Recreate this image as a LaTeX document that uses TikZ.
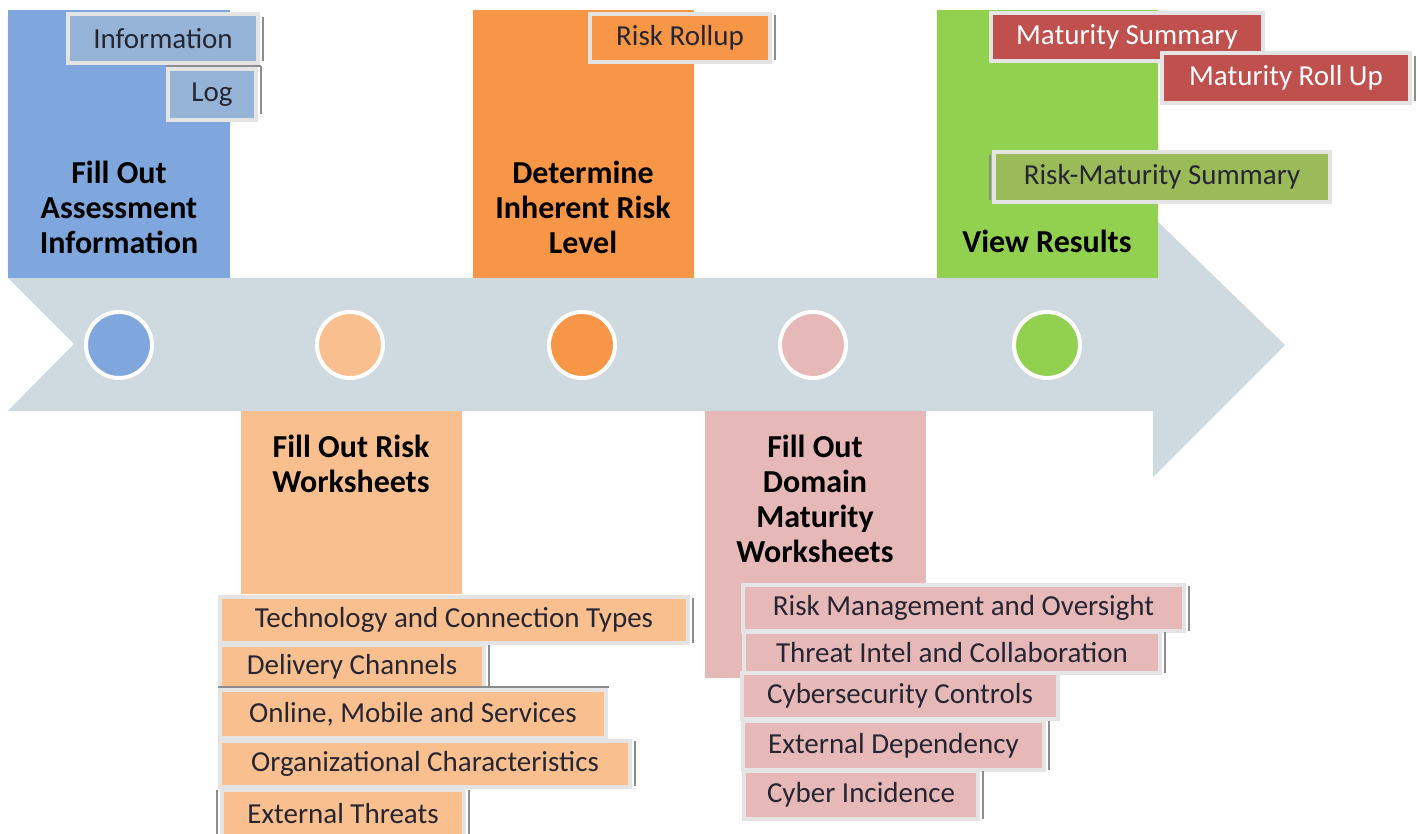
\documentclass[tikz,border=0pt]{standalone}
\usepackage{fontspec}
\setmainfont{Carlito}
\definecolor{band}{HTML}{CFD9E0}
\definecolor{sblue}{HTML}{7FA7DE}
\definecolor{slight}{HTML}{F9BF8F}
\definecolor{sorange}{HTML}{F79646}
\definecolor{spink}{HTML}{E6B8B7}
\definecolor{sgreen}{HTML}{92D050}
\definecolor{tabblue}{HTML}{95B3D7}
\definecolor{tabred}{HTML}{C0504D}
\definecolor{tabolive}{HTML}{9BBB59}
\definecolor{framegray}{HTML}{E4E4E4}
\definecolor{edgegray}{HTML}{8C8C8C}
\definecolor{tabtext}{HTML}{262633}
\tikzset{
  stepbox/.style={inner sep=0pt, anchor=north west},
  steptext/.style={align=center, font=\fontsize{32}{35}\selectfont\bfseries, text=black},
  dot/.style={circle, draw=white, line width=4pt, minimum size=66pt, inner sep=0pt},
  tab/.style={draw=framegray, line width=4pt, inner sep=0pt, anchor=north west,
    font=\fontsize{29}{32}\selectfont, text=tabtext},
  tabedge/.style={draw=edgegray, line width=2pt}
}
\begin{document}
\begin{tikzpicture}[x=1pt,y=-1pt]
\useasboundingbox (0,0) rectangle (1418,834);
\fill[white] (0,0) rectangle (1418,834);

% timeline arrow
\fill[band] (8,278) -- (1153,278) -- (1153,217) -- (1285,345) -- (1153,477)
  -- (1153,411) -- (8,411) -- (74,344) -- cycle;

% step boxes
\node[stepbox, fill=sblue,   minimum width=222pt, minimum height=268pt] (b1) at (8,10) {};
\node[stepbox, fill=slight,  minimum width=221pt, minimum height=183pt] (b2) at (241,411) {};
\node[stepbox, fill=sorange, minimum width=221pt, minimum height=268pt] (b3) at (473,10) {};
\node[stepbox, fill=spink,   minimum width=221pt, minimum height=267pt] (b4) at (705,411) {};
\node[stepbox, fill=sgreen,  minimum width=221pt, minimum height=268pt] (b5) at (937,10) {};

% step titles
\node[steptext] (s1) at (119,207) {Fill Out\\Assessment\\Information};
\node[steptext] (s2) at (351,464) {Fill Out Risk\\Worksheets};
\node[steptext] (s3) at (583,207) {Determine\\Inherent Risk\\Level};
\node[steptext] (s4) at (815,499) {Fill Out\\Domain\\Maturity\\Worksheets};
\node[steptext] (s5) at (1047,241) {View Results};

% milestone dots
\node[dot, fill=sblue]   (d1) at (119,345) {};
\node[dot, fill=slight]  (d2) at (350,345) {};
\node[dot, fill=sorange] (d3) at (582,345) {};
\node[dot, fill=spink]   (d4) at (813,345) {};
\node[dot, fill=sgreen]  (d5) at (1047,345) {};

% worksheet tabs: step 1
\node[tab, fill=tabblue, minimum width=190pt, minimum height=49pt] (info) at (66,12) {Information};
\draw[tabedge] ([xshift=3pt,yshift=-5pt]info.north east) -- ([xshift=3pt,yshift=4pt]info.south east);
\node[tab, fill=tabblue, minimum width=88pt, minimum height=51pt] (log) at (166,67) {Log};
\draw[tabedge] ([xshift=3pt,yshift=1pt]log.north east) -- ([xshift=3pt,yshift=8pt]log.south east);
\draw[tabedge] ([yshift=1pt]log.north west) -- ([xshift=3pt,yshift=1pt]log.north east);

% step 3
\node[tab, fill=sorange, minimum width=180pt, minimum height=48pt] (rollup) at (588,12) {Risk Rollup};
\draw[tabedge] ([xshift=3pt,yshift=-3pt]rollup.north east) -- ([xshift=3pt,yshift=4pt]rollup.south east);

% step 5
\node[tab, fill=tabred, text=white, minimum width=272pt, minimum height=48pt] (msum) at (989,11) {Maturity Summary};
\node[tab, fill=tabred, text=white, minimum width=248pt, minimum height=50pt] (mroll) at (1160,51) {Maturity Roll Up};
\draw[tabedge] ([xshift=3pt,yshift=-5pt]mroll.north east) -- ([xshift=3pt,yshift=4pt]mroll.south east);
\node[tab, fill=tabolive, minimum width=336pt, minimum height=50pt] (rmsum) at (992,150) {Risk-Maturity Summary};
\draw[tabedge] ([xshift=-2pt,yshift=-5pt]rmsum.north west) -- ([xshift=-2pt,yshift=4pt]rmsum.south west);

% step 2
\node[tab, fill=slight, minimum width=468pt, minimum height=46pt] (tech) at (218,595) {Technology and Connection Types};
\draw[tabedge] ([xshift=3pt,yshift=-3pt]tech.north east) -- ([xshift=3pt,yshift=2pt]tech.south east);
\node[tab, fill=slight, minimum width=264pt, minimum height=43pt] (deliv) at (218,643) {Delivery Channels};
\draw[tabedge] ([xshift=3pt,yshift=-2pt]deliv.north east) -- ([xshift=3pt,yshift=2pt]deliv.south east);
\node[tab, fill=slight, minimum width=386pt, minimum height=48pt] (online) at (218,688) {Online, Mobile and Services};
\draw[tabedge] ([yshift=1pt]online.north west) -- ([xshift=1pt,yshift=1pt]online.north east);
\node[tab, fill=slight, minimum width=410pt, minimum height=46pt] (org) at (218,739) {Organizational Characteristics};
\draw[tabedge] ([xshift=3pt,yshift=-2pt]org.north east) -- ([xshift=3pt,yshift=3pt]org.south east);
\node[tab, fill=slight, minimum width=242pt, minimum height=48pt] (ext) at (220,788) {External Threats};
\draw[tabedge] ([xshift=3pt,yshift=-2pt]ext.north east) -- ([xshift=3pt]ext.south east);
\draw[tabedge] ([xshift=-3pt,yshift=-2pt]ext.north west) -- ([xshift=-3pt]ext.south west);

% step 4
\node[tab, fill=spink, minimum width=441pt, minimum height=46pt] (rmo) at (741,583) {Risk Management and Oversight};
\draw[tabedge] ([xshift=3pt,yshift=-3pt]rmo.north east) -- ([xshift=3pt,yshift=2pt]rmo.south east);
\node[tab, fill=spink, minimum width=416pt, minimum height=41pt] (tic) at (742,630) {Threat Intel and Collaboration};
\draw[tabedge] ([xshift=3pt,yshift=-2pt]tic.north east) -- ([xshift=3pt,yshift=2pt]tic.south east);
\node[tab, fill=spink, minimum width=316pt, minimum height=46pt] (csc) at (740,671) {Cybersecurity Controls};
\node[tab, fill=spink, minimum width=301pt, minimum height=49pt] (edep) at (741,719) {External Dependency};
\draw[tabedge] ([xshift=3pt,yshift=-2pt]edep.north east) -- ([xshift=3pt,yshift=2pt]edep.south east);
\node[tab, fill=spink, minimum width=234pt, minimum height=48pt] (cinc) at (742,769) {Cyber Incidence};
\draw[tabedge] ([xshift=3pt,yshift=-2pt]cinc.north east) -- ([xshift=3pt,yshift=2pt]cinc.south east);
\end{tikzpicture}
\end{document}
